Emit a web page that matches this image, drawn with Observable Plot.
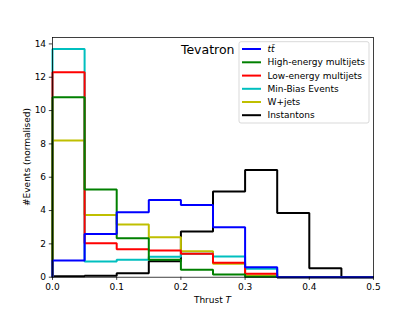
<!DOCTYPE html>
<html>
<head>
<meta charset="utf-8">
<script src="https://cdn.jsdelivr.net/npm/d3@7"></script>
<script src="https://cdn.jsdelivr.net/npm/@observablehq/plot@0.6"></script>
<style>
  html, body { margin: 0; padding: 0; background: #fff; }
  #chart { width: 415px; height: 311px; }
</style>
</head>
<body>
<div id="chart"></div>
<script>
// Bin edges (Thrust T)
const binEdges = [0, 0.05, 0.1, 0.15, 0.2, 0.25, 0.3, 0.35, 0.4, 0.45, 0.5];
const xTicks = [0, 0.1, 0.2, 0.3, 0.4, 0.5];
const yTicks = [0, 2, 4, 6, 8, 10, 12, 14];

// Series (normalised event counts per bin)
const seriesNames = ["tt̄", "High-energy multijets", "Low-energy multijets", "Min-Bias Events", "W+jets", "Instantons"];
const seriesColors = ["#0000ff", "#008000", "#ff0000", "#00bfbf", "#bfbf00", "#000000"];
const ttbar      = [1.0, 2.6, 3.9, 4.64, 4.34, 3.0, 0.6, 0, 0, 0];
const highEnergy = [10.8, 5.26, 2.34, 1.04, 0.44, 0.16, 0.03, 0, 0, 0];
const lowEnergy  = [12.3, 2.04, 1.68, 1.6, 1.4, 0.86, 0.2, 0, 0, 0];
const minBias    = [13.7, 0.94, 1.04, 1.22, 1.4, 1.24, 0.5, 0, 0, 0];
const wjets      = [8.2, 3.74, 3.16, 2.4, 1.56, 0.8, 0.1, 0, 0, 0];
const instantons = [0.05, 0.08, 0.24, 0.95, 2.74, 5.14, 6.44, 3.86, 0.54, 0];
const seriesValues = [ttbar, highEnergy, lowEnergy, minBias, wjets, instantons];

function stepPoints(vals) {
  const pts = [{x: binEdges[0], y: 0}];
  vals.forEach((v, i) => {
    pts.push({x: binEdges[i], y: v});
    pts.push({x: binEdges[i + 1], y: v});
  });
  pts.push({x: binEdges[binEdges.length - 1], y: 0});
  return pts;
}

const FONT = "DejaVu Sans";
const LW = 2;

// draw in reverse legend order (instantons at bottom, ttbar on top)
const lineMarks = [];
for (let k = seriesNames.length - 1; k >= 0; k--) {
  lineMarks.push(Plot.line(stepPoints(seriesValues[k]), {
    x: "x", y: "y", stroke: seriesColors[k], strokeWidth: LW,
    strokeLinejoin: "miter", strokeLinecap: "butt"
  }));
}

const plot = Plot.plot({
  width: 415,
  height: 311,
  marginLeft: 52,
  marginRight: 42,
  marginTop: 37,
  marginBottom: 34.3,
  style: {fontFamily: FONT, fontSize: "9px", background: "#fff", color: "#000"},
  x: {domain: [0, 0.5]},
  y: {domain: [0, 14.385]},
  marks: [
    ...lineMarks,
    Plot.frame({stroke: "#000", strokeWidth: 0.75}),
    Plot.axisX({ticks: xTicks, tickFormat: d3.format(".1f"), tickSize: 3.2, tickPadding: 3.2, label: null, fontSize: 9, strokeWidth: 0.75}),
    Plot.axisY({ticks: yTicks, tickFormat: d => String(d), tickSize: 3.2, tickPadding: 3.2, label: null, fontSize: 9, strokeWidth: 0.75}),
    Plot.text(["Tevatron"], {x: 0.2, y: 13.42, text: d => d, textAnchor: "start", lineAnchor: "bottom", fontSize: 12.5, fill: "#000"})
  ]
});

document.getElementById("chart").appendChild(plot);

const svg = d3.select(plot);

// Axis labels
const xl = svg.append("text")
  .attr("x", 212.5).attr("y", 303)
  .attr("text-anchor", "middle")
  .attr("font-family", FONT).attr("font-size", 9).attr("fill", "#000");
xl.append("tspan").text("Thrust ");
xl.append("tspan").attr("font-style", "italic").text("T");

svg.append("text")
  .attr("transform", "translate(29.5,157) rotate(-90)")
  .attr("text-anchor", "middle")
  .attr("font-family", FONT).attr("font-size", 9).attr("fill", "#000")
  .text("#Events (normalised)");

// Legend
const lg = svg.append("g").attr("text-anchor", "start");
lg.append("rect")
  .attr("x", 239).attr("y", 41.7).attr("width", 130).attr("height", 81.3)
  .attr("rx", 2).attr("ry", 2)
  .attr("fill", "#fff").attr("fill-opacity", 0.8)
  .attr("stroke", "#cccccc").attr("stroke-width", 0.75);
const rowY = [49, 62.3, 75.6, 88.8, 102, 115.2];
seriesNames.forEach((name, i) => {
  lg.append("line")
    .attr("x1", 242).attr("x2", 261)
    .attr("y1", rowY[i]).attr("y2", rowY[i])
    .attr("stroke", seriesColors[i]).attr("stroke-width", LW);
  const t = lg.append("text")
    .attr("x", 267.5).attr("y", rowY[i])
    .attr("dy", "0.35em")
    .attr("text-anchor", "start")
    .attr("font-family", FONT).attr("font-size", 9).attr("fill", "#000")
    .text(name);
  if (i === 0) t.attr("font-style", "italic");
});
</script>
</body>
</html>
